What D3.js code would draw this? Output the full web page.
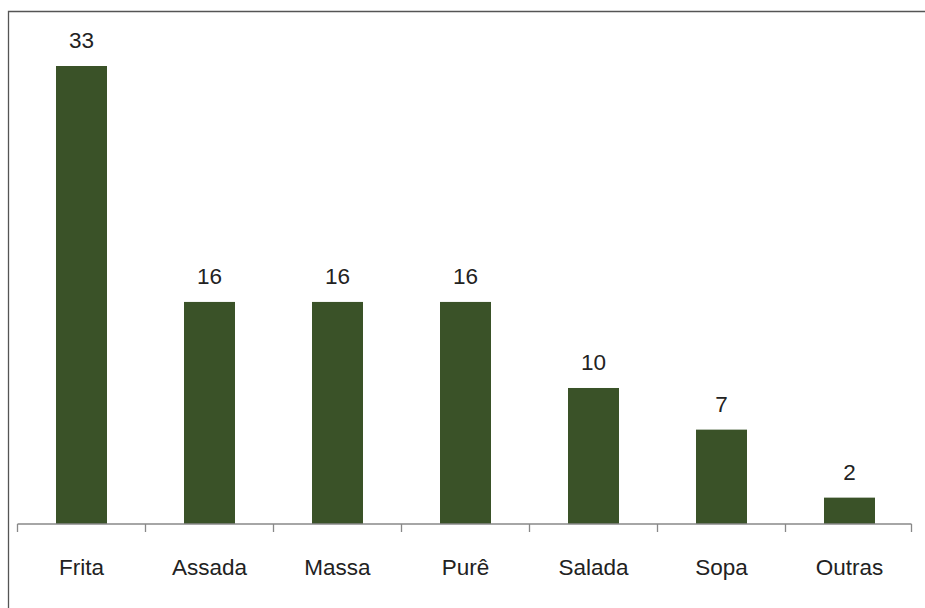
<!DOCTYPE html>
<html><head><meta charset="utf-8">
<script src="https://cdn.jsdelivr.net/npm/d3@7"></script>
<style>body{margin:0;background:#fff}svg{display:block}text{font-family:"Liberation Sans",Arial,sans-serif;fill:#222}</style>
</head><body><svg id="c" width="925" height="608"></svg>
<script>
const categories = ["Frita","Assada","Massa","Purê","Salada","Sopa","Outras"];
const values = [33, 16, 16, 16, 9.8, 6.8, 1.9];
const labels = ["33","16","16","16","10","7","2"];

const svg = d3.select("#c");
// frame
svg.append("path").attr("d","M8.5,609 V11.5 H926").attr("fill","none").attr("stroke","#555").attr("stroke-width",1.3);

const x0 = 17.5, x1 = 913.5;
const x = d3.scaleBand().domain(categories).range([x0, x1]).paddingInner(0.6016).paddingOuter(0.3008);
const xb = d3.scaleBand().domain(categories).range([x0, x1]);
const y = d3.scaleLinear().domain([0, 33]).range([524, 66]);

svg.selectAll("rect.bar").data(categories).join("rect").attr("class","bar")
  .attr("x", d => x(d)).attr("width", x.bandwidth())
  .attr("y", (d,i) => y(values[i])).attr("height", (d,i) => y(0) - y(values[i]))
  .attr("fill", "#3a5228");

// axis
const ax = svg.append("g").attr("transform","translate(0,524)");
ax.append("line").attr("x1",x0).attr("x2",x1 - 2).attr("stroke","#888").attr("stroke-width",1.5);
const ticks = categories.map(d => xb(d)).concat([x1 - 2]);
ax.selectAll("line.t").data(ticks).join("line").attr("class","t")
  .attr("x1", d => d).attr("x2", d => d).attr("y1",0).attr("y2",8)
  .attr("stroke","#888").attr("stroke-width",1.3);

svg.selectAll("text.cat").data(categories).join("text").attr("class","cat")
  .attr("x", d => xb(d) + xb.bandwidth()/2).attr("y", 575)
  .attr("text-anchor","middle").attr("font-size",22.5).text(d => d);

svg.selectAll("text.val").data(categories).join("text").attr("class","val")
  .attr("x", d => x(d) + x.bandwidth()/2).attr("y", (d,i) => y(values[i]) - 18)
  .attr("text-anchor","middle").attr("font-size",22.5).text((d,i) => labels[i]);
</script></body></html>
